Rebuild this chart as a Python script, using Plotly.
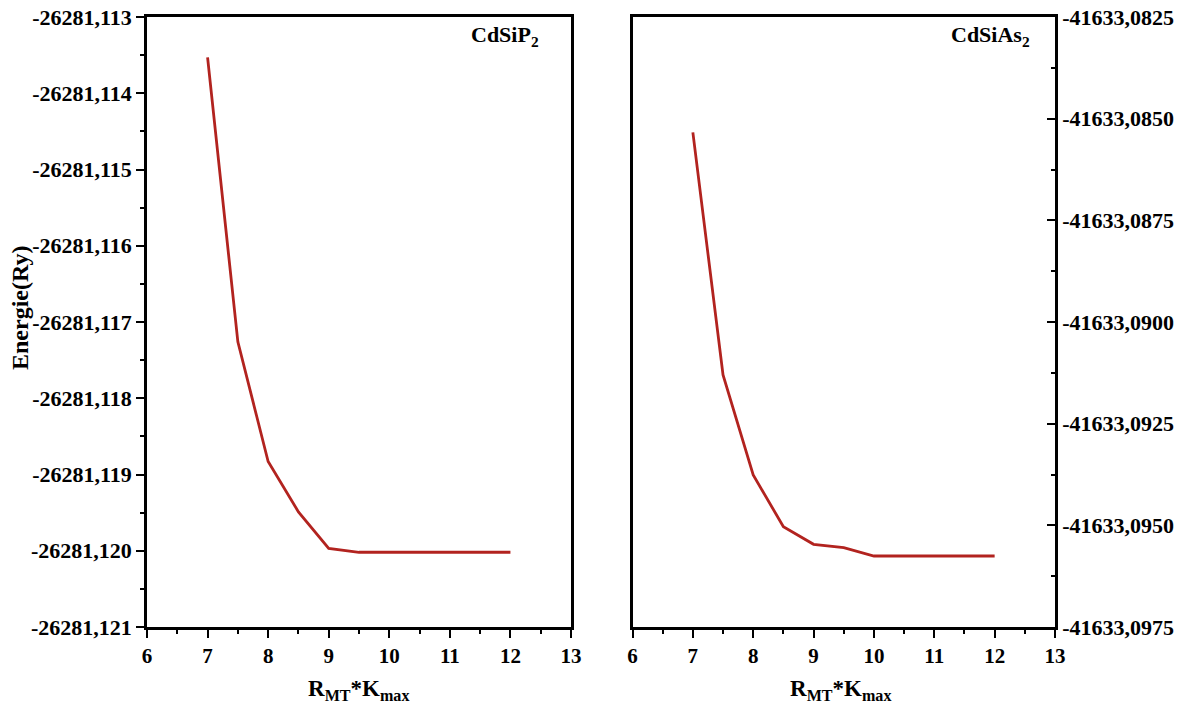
import plotly.graph_objects as go

# ---------------- data ----------------
rk_p = [7, 7.5, 8, 8.5, 9, 9.5, 10, 11, 12]
energy_cdsip2 = [-26281.11353, -26281.11726, -26281.11883, -26281.11949,
                 -26281.11997, -26281.12002, -26281.12002, -26281.12002, -26281.12002]

rk_as = [7, 7.5, 8, 8.5, 9, 9.5, 10, 11, 12]
energy_cdsias2 = [-41633.085336, -41633.091303, -41633.093762, -41633.095033,
                  -41633.095467, -41633.095549, -41633.095754, -41633.095754, -41633.095754]

x_ticks = [6, 7, 8, 9, 10, 11, 12, 13]
x_ticktext = ["6", "7", "8", "9", "10", "11", "12", "13"]

y1_ticks = [-26281.113, -26281.114, -26281.115, -26281.116, -26281.117,
            -26281.118, -26281.119, -26281.120, -26281.121]
y1_ticktext = ["-26281,113", "-26281,114", "-26281,115", "-26281,116", "-26281,117",
               "-26281,118", "-26281,119", "-26281,120", "-26281,121"]

y2_ticks = [-41633.0825, -41633.0850, -41633.0875, -41633.0900,
            -41633.0925, -41633.0950, -41633.0975]
y2_ticktext = ["-41633,0825", "-41633,0850", "-41633,0875", "-41633,0900",
               "-41633,0925", "-41633,0950", "-41633,0975"]

# ---------------- styling ----------------
W, H = 1184, 709
LINE_COLOR = "#B2231F"
FONT = "Liberation Serif"

def mids(vals):
    return [(a + b) / 2 for a, b in zip(vals[:-1], vals[1:])]

fig = go.Figure()
fig.add_trace(go.Scatter(x=rk_p, y=energy_cdsip2, mode="lines",
                         line=dict(color=LINE_COLOR, width=2.8),
                         xaxis="x", yaxis="y", showlegend=False))
fig.add_trace(go.Scatter(x=rk_as, y=energy_cdsias2, mode="lines",
                         line=dict(color=LINE_COLOR, width=2.8),
                         xaxis="x2", yaxis="y2", showlegend=False))

xdom1 = [147 / W, 571 / W]
xdom2 = [632.5 / W, 1055 / W]
ydom = [(H - 627) / H, (H - 17) / H]

xtf = dict(family=FONT, size=21, color="black", weight="bold")
ytf = dict(family=FONT, size=22, color="black", weight="bold")

common_x = dict(range=[6, 13], tickmode="array", tickvals=x_ticks, ticktext=x_ticktext,
                ticks="outside", ticklen=8, tickwidth=2.2, tickcolor="black",
                showline=True, linecolor="black", linewidth=2.5, mirror=True,
                showgrid=False, zeroline=False, automargin=False, tickfont=xtf,
                minor=dict(tickvals=mids(x_ticks), ticks="outside", ticklen=4,
                           tickwidth=2, tickcolor="black", showgrid=False))

fig.update_layout(
    width=W, height=H,
    margin=dict(l=0, r=0, t=0, b=0),
    paper_bgcolor="white", plot_bgcolor="white",
    font=dict(family=FONT, size=20, color="black", weight="bold"),
    xaxis=dict(domain=xdom1, anchor="y", **common_x),
    xaxis2=dict(domain=xdom2, anchor="y2", **common_x),
    yaxis=dict(domain=ydom, anchor="x", range=[-26281.121, -26281.113],
               tickmode="array", tickvals=y1_ticks, ticktext=y1_ticktext,
               ticks="outside", ticklen=8, tickwidth=2.2, tickcolor="black",
               showline=True, linecolor="black", linewidth=2.5, mirror=True,
               showgrid=False, zeroline=False, automargin=False, tickfont=ytf,
               minor=dict(tickvals=mids(y1_ticks), ticks="outside", ticklen=4,
                          tickwidth=2, tickcolor="black", showgrid=False)),
    yaxis2=dict(domain=ydom, anchor="x2", side="right", range=[-41633.0975, -41633.0825],
                tickmode="array", tickvals=y2_ticks, ticktext=y2_ticktext,
                ticks="inside", ticklen=8, tickwidth=2.2, tickcolor="black",
                showline=True, linecolor="black", linewidth=2.5, mirror=True,
                showgrid=False, zeroline=False, automargin=False, tickfont=ytf,
                minor=dict(tickvals=mids(y2_ticks), ticks="inside", ticklen=4,
                           tickwidth=2, tickcolor="black", showgrid=False)),
)

ann_font = dict(family=FONT, size=22, color="black", weight="bold")
fig.add_annotation(text="CdSiP<sub>2</sub>", xref="paper", yref="paper",
                   x=541 / W, y=1 - 36 / H, xanchor="right", yanchor="middle",
                   showarrow=False, font=ann_font)
fig.add_annotation(text="CdSiAs<sub>2</sub>", xref="paper", yref="paper",
                   x=1032 / W, y=1 - 36 / H, xanchor="right", yanchor="middle",
                   showarrow=False, font=ann_font)
fig.add_annotation(text="Energie(Ry)", xref="paper", yref="paper",
                   x=20 / W, y=1 - 308 / H, xanchor="center", yanchor="middle",
                   textangle=-90, showarrow=False,
                   font=dict(family=FONT, size=24, color="black", weight="bold"))
for xc in (358, 840):
    fig.add_annotation(text="R<sub>MT</sub>*K<sub>max</sub>", xref="paper", yref="paper",
                       x=xc / W, y=1 - 690 / H, xanchor="center", yanchor="middle",
                       showarrow=False, font=dict(family=FONT, size=23, color="black", weight="bold"))

fig.write_html("out.html")
